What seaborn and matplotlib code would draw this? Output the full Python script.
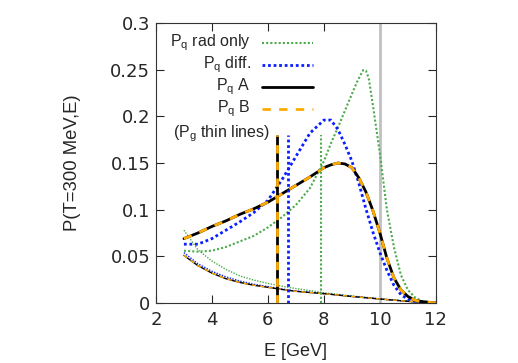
import matplotlib
matplotlib.use("Agg")
import matplotlib.pyplot as plt
import seaborn as sns
from matplotlib.ticker import FormatStrFormatter, MultipleLocator

# energy grid for the quark curves
e_quark = [3, 3.5, 4, 4.5, 5, 5.5, 6, 6.5, 7, 7.5, 8, 8.25, 8.5, 8.75,
           9, 9.25, 9.5, 9.75, 10, 10.25, 10.5, 10.75, 11, 11.25, 11.5, 12]
pq_a = [0.069, 0.075, 0.082, 0.088, 0.095, 0.101, 0.108, 0.117, 0.126, 0.135,
        0.145, 0.148, 0.150, 0.149, 0.145, 0.134, 0.119, 0.099, 0.075, 0.048,
        0.027, 0.014, 0.007, 0.003, 0.0015, 0.0]
pq_diff = [0.063, 0.063, 0.069, 0.078, 0.087, 0.097, 0.110, 0.132, 0.157, 0.182,
           0.196, 0.196, 0.186, 0.170, 0.152, 0.128, 0.101, 0.076, 0.054, 0.035,
           0.019, 0.009, 0.004, 0.0018, 0.0008, 0.0]

e_rad = [3, 3.5, 4, 4.5, 5, 5.5, 6, 6.5, 7, 7.5, 8, 8.25, 8.5, 8.75, 9, 9.2,
         9.4, 9.5, 9.6, 9.75, 10, 10.25, 10.5, 10.75, 11, 11.25, 11.5, 12]
pq_rad = [0.056, 0.055, 0.056, 0.060, 0.066, 0.072, 0.081, 0.092, 0.105, 0.123,
          0.152, 0.171, 0.188, 0.206, 0.224, 0.238, 0.2495, 0.249, 0.241, 0.212,
          0.160, 0.100, 0.060, 0.030, 0.014, 0.006, 0.002, 0.0]

# gluon curves (thin lines)
e_gluon = [3, 3.5, 4, 4.5, 5, 5.5, 6, 6.5, 7, 8, 9, 10, 11, 11.5, 12]
pg_a = [0.051, 0.040, 0.032, 0.026, 0.022, 0.019, 0.0168, 0.0145, 0.0125,
        0.0100, 0.0070, 0.0043, 0.0018, 0.0008, 0.0]
pg_diff = [0.054, 0.042, 0.034, 0.028, 0.0235, 0.020, 0.0175, 0.015, 0.0128,
           0.0101, 0.0070, 0.0043, 0.0018, 0.0008, 0.0]
pg_rad = [0.078, 0.057, 0.045, 0.036, 0.029, 0.0245, 0.021, 0.018, 0.0155,
          0.011, 0.0075, 0.0045, 0.0018, 0.0008, 0.0]

# mean energies (vertical markers) and initial energy
mean_a = 6.31
mean_diff = 6.71
mean_rad = 7.88
marker_top = 0.18
e_initial = 10.0

green = "#4daa4d"
blue = "#0a1eff"
orange = "#ffaa00"

sns.set_style("ticks")
plt.rcParams["font.family"] = ["Liberation Sans", "DejaVu Sans"]

fig = plt.figure(figsize=(5.18, 3.63), dpi=100)
ax = fig.add_axes([0.301, 0.1653, 0.5405, 0.7713])

dot = (0, (1, 1))
dash = (0, (3, 3))

# initial energy
ax.axvline(e_initial, color="#c0c0c0", lw=2, zorder=1)

# gluon thin lines
sns.lineplot(x=e_gluon, y=pg_rad, ax=ax, color=green, lw=1, linestyle=dot)
sns.lineplot(x=e_gluon, y=pg_diff, ax=ax, color=blue, lw=1, linestyle=dot)
sns.lineplot(x=e_gluon, y=pg_a, ax=ax, color="black", lw=1)
sns.lineplot(x=e_gluon, y=pg_a, ax=ax, color=orange, lw=1, linestyle=dash)

# quark thick lines
sns.lineplot(x=e_rad, y=pq_rad, ax=ax, color=green, lw=1.5, linestyle=dot)
sns.lineplot(x=e_quark, y=pq_diff, ax=ax, color=blue, lw=2, linestyle=dot)
sns.lineplot(x=e_quark, y=pq_a, ax=ax, color="black", lw=2)
sns.lineplot(x=e_quark, y=pq_a, ax=ax, color=orange, lw=2, linestyle=dash)

# mean energies
ax.vlines(mean_rad, 0, marker_top, color=green, lw=1.5, linestyle=dot)
ax.vlines(mean_diff, 0, marker_top, color=blue, lw=2, linestyle=dot)
ax.vlines(mean_a, 0, marker_top, color="black", lw=2)
ax.vlines(mean_a, 0, marker_top, color=orange, lw=2, linestyle=dash)

ax.set_xlim(2, 12)
ax.set_ylim(0, 0.3)
ax.xaxis.set_major_locator(MultipleLocator(2))
ax.yaxis.set_major_locator(MultipleLocator(0.05))
ax.yaxis.set_major_formatter(FormatStrFormatter("%g"))
ax.tick_params(direction="in", length=6, width=0.8, labelsize=13,
               labelfontfamily="DejaVu Sans", top=True, right=True)
ax.tick_params(axis="y", pad=4)
ax.tick_params(axis="x", pad=6)
for s in ax.spines.values():
    s.set_linewidth(0.8)
    s.set_color("#333333")

ax.set_xlabel("E [GeV]", fontsize=13, labelpad=10)
ax.set_ylabel("P(T=300 MeV,E)", fontsize=13.3, labelpad=21)

# gnuplot-style key: right aligned text, sample to the right
labels = [r"P$_\mathregular{q}$ rad only", r"P$_\mathregular{q}$ diff.",
          r"P$_\mathregular{q}$ A", r"P$_\mathregular{q}$ B"]
styles = [(green, 1.5, dot), (blue, 2, dot), ("black", 2, "-"), (orange, 2, dash)]
rows = [0.929, 0.850, 0.771, 0.693]
for lab, (c, w, ls), yy in zip(labels, styles, rows):
    ax.text(0.339, yy, lab, transform=ax.transAxes, ha="right", va="center",
            fontsize=11.5)
    ax.plot([0.379, 0.561], [yy, yy], transform=ax.transAxes, color=c, lw=w,
            linestyle=ls)
ax.text(0.061, 0.604, r"(P$_\mathregular{g}$ thin lines)", transform=ax.transAxes,
        ha="left", va="center", fontsize=11.5)

fig.savefig("out.png", dpi=100)
